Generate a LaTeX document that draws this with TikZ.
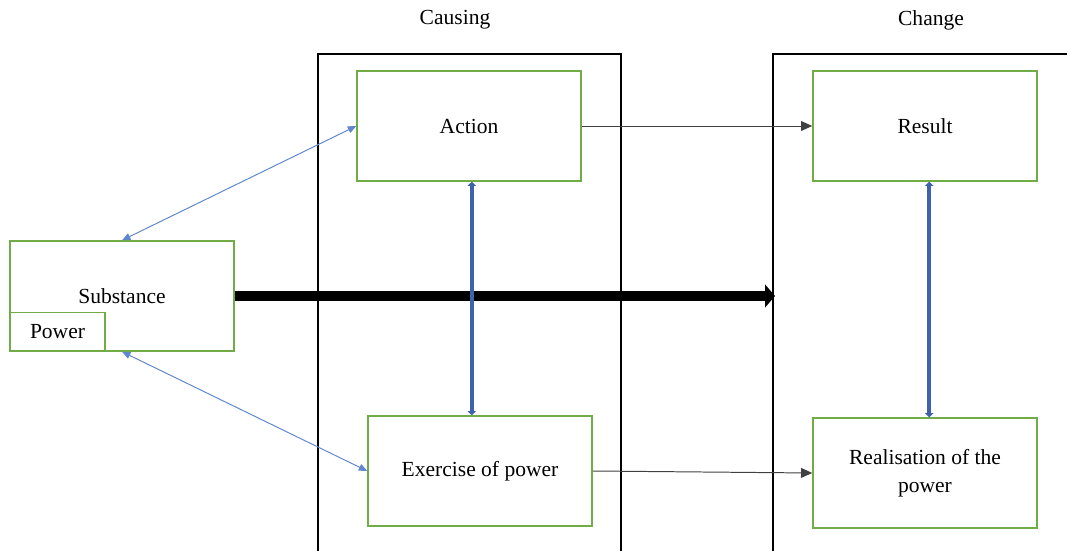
\documentclass[tikz,border=0pt]{standalone}
\usepackage{fontspec}
\setmainfont{Liberation Serif}
\usetikzlibrary{arrows.meta}
\definecolor{boxgreen}{HTML}{70AD47}
\definecolor{linkblue}{HTML}{4472C4}
\definecolor{barblue}{HTML}{3F62AC}

\begin{document}
\begin{tikzpicture}[x=0.025cm, y=-0.025cm, font=\fontsize{15.3}{20}\selectfont]
            \useasboundingbox (0,0) rectangle (1067,551);
            \draw[line width=1.1pt] (318,551) -- (318,54) -- (621,54) -- (621,551);
            \draw[line width=1.1pt] (773,551) -- (773,54) -- (1067,54);
            \node (causing) at (455,20) {Causing};
            \node (change) at (931,20) {Change};
            \begin{scope}[every node/.style={draw=boxgreen,line width=1pt,fill=white,inner sep=0pt,minimum width=5.6cm,minimum height=2.75cm,align=center}]
            \node (act) at (469,126) {Action};
            \node (res) at (925,126) {Result};
            \node (sub) at (122,296) {Substance};
            \node (ex) at (480,471) {Exercise of power};
            \node (real) at (925,473) {Realisation of the\\power};
            \node[minimum width=2.375cm,minimum height=0.95cm] (pow) at (57.5,331.5) {Power};
            \end{scope}
            \coordinate (chg) at (775,297);
            \draw[line width=7pt,-{Triangle[length=7pt,width=16pt]}] (sub.east) -- (sub.east -| chg);
            \begin{scope}[every edge/.style={draw=linkblue!85,line width=0.7pt,{Triangle[length=6pt,width=5pt]}-{Triangle[length=6pt,width=5pt]}}]
            \draw  (sub.north) edge (act.west);
            \draw  (sub.south) edge (ex.west);
            \end{scope}
            \begin{scope}[every edge/.style={draw=barblue,line width=2.8pt,{Triangle[length=3pt,width=6pt]}-{Triangle[length=3pt,width=6pt]}}]
            \draw  ([xshift=2]act.south) edge ([xshift=2]act.south |- ex.north);
            \draw  ([xshift=3]res.south) edge ([xshift=3]res.south |- real.north);
            \end{scope}
            \begin{scope}[every edge/.style={draw=black!75,line width=0.7pt,-{Triangle[length=8pt,width=7pt]}}]
            \draw  (act.east) edge (res.west);
            \draw  (ex.east) edge (real.west);
            \end{scope}
            \end{tikzpicture}
\end{document}
